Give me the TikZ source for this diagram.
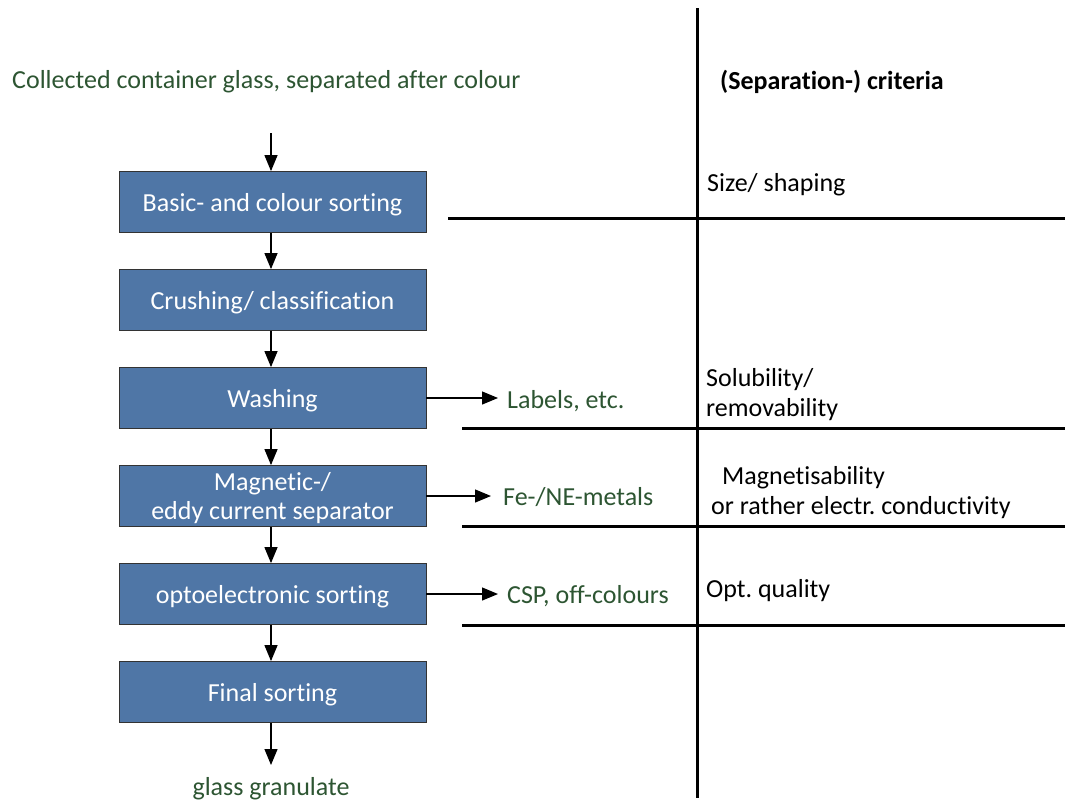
\documentclass[tikz,border=0pt]{standalone}
\usepackage{fontspec}
\setmainfont{Carlito}[Ligatures=NoCommon]
\usetikzlibrary{arrows.meta}
\definecolor{boxblue}{RGB}{79,118,166}
\definecolor{txtgreen}{RGB}{45,85,50}
\newcommand{\lowered}[1]{\raisebox{-3pt}[\height][\depth]{#1}}
\frenchspacing
\begin{document}
\begin{tikzpicture}[x=1pt,y=-1pt,
  every node/.style={font=\fontsize{26}{30}\selectfont},
  procbox/.style={draw=black!80,line width=0.8pt,fill=boxblue,text=white,minimum width=307pt,minimum height=61pt,inner sep=0pt,align=center},
  green/.style={text=txtgreen},
  flow/.style={line width=1.2pt,-{Triangle[length=16pt,width=13pt]}},
  sep/.style={line width=3pt},
  crit/.style={anchor=west,align=left,inner sep=0pt}]
\useasboundingbox (0,0) rectangle (1065,801);
\node[green,anchor=west,inner sep=0pt] (top) at (12,82) {Collected container glass, separated after colour};
\coordinate (topa) at (271,133);
\node[procbox] (b1) at (272.5,202) {\lowered{Basic- and colour sorting}};
\node[procbox] (b2) at (272.5,300) {\lowered{Crushing/ classification}};
\node[procbox] (b3) at (272.5,398) {\lowered{Washing}};
\node[procbox] (b4) at (272.5,496) {\lowered{\begin{tabular}{@{}c@{}}Magnetic-/\\[-1pt]eddy current separator\end{tabular}}};
\node[procbox] (b5) at (272.5,594) {\lowered{optoelectronic sorting}};
\node[procbox] (b6) at (272.5,692) {\lowered{Final sorting}};
\node[green,inner sep=0pt] (gg) at (271,789) {glass granulate};
\coordinate (gga) at (271,765);
\draw[flow] (topa) -- (topa|-b1.north);
\draw[flow] (b1.south-|topa) -- (topa|-b2.north);
\draw[flow] (b2.south-|topa) -- (topa|-b3.north);
\draw[flow] (b3.south-|topa) -- (topa|-b4.north);
\draw[flow] (b4.south-|topa) -- (topa|-b5.north);
\draw[flow] (b5.south-|topa) -- (topa|-b6.north);
\draw[flow] (b6.south-|topa) -- (gga);
\node[green,anchor=west,inner sep=0pt] (l1) at (507,401) {Labels, etc.};
\node[green,anchor=west,inner sep=0pt] (l2) at (503,497) {Fe-/NE-metals};
\node[green,anchor=west,inner sep=0pt] (l3) at (507,596) {CSP, off-colours};
\draw[flow] (b3.east) -- ([xshift=-9pt]l1.west|-b3.east);
\draw[flow] (b4.east) -- ([xshift=-12pt]l2.west|-b4.east);
\draw[flow] (b5.east) -- ([xshift=-9pt]l3.west|-b5.east);
% separators
\coordinate (vt) at (697,8);
\coordinate (vb) at (697,798);
\draw[sep] (vt) -- (vb);
\coordinate (h1a) at (448,218); \coordinate (h1b) at (1065,218);
\coordinate (h2a) at (462,428); \coordinate (h2b) at (1065,428);
\coordinate (h3a) at (462,526); \coordinate (h3b) at (1065,526);
\coordinate (h4a) at (462,625); \coordinate (h4b) at (1065,625);
\draw[sep] (h1a) -- (h1b);
\draw[sep] (h2a) -- (h2b);
\draw[sep] (h3a) -- (h3b);
\draw[sep] (h4a) -- (h4b);
% criteria
\node[crit,font=\fontsize{26}{30}\selectfont\bfseries] (c0) at (720,82) {(Separation-) criteria};
\node[crit] (c1) at (707,185) {Size/ shaping};
\node[crit] (c2) at (706,395) {Solubility/\\removability};
\node[crit] (c3) at (711,493) {\hspace*{11pt}Magnetisability\\or rather electr. conductivity};
\node[crit] (c4) at (706,591) {Opt. quality};
\end{tikzpicture}
\end{document}
